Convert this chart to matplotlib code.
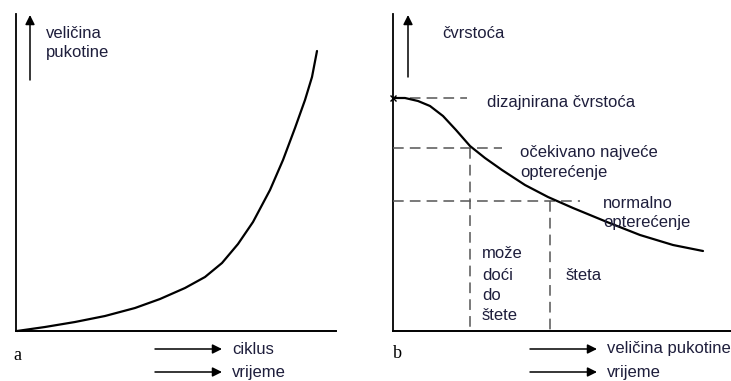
import matplotlib
matplotlib.use('Agg')
import matplotlib.pyplot as plt

# ============================================================
# DATA (pixel coordinates, y downwards)
# ============================================================
# panel a: crack size vs cycles
crack_x = [17, 45, 75, 105, 135, 160, 185, 205, 222, 238, 253, 270, 283, 295, 305, 312, 317]
crack_y = [331, 327, 322, 316, 308, 299, 288, 277, 263, 244, 222, 190, 160, 128, 100, 77, 51]

# panel b: strength vs crack size
strength_x = [393, 405, 418, 430, 443, 456, 470, 485, 502, 525, 548, 573, 607, 640, 673, 703]
strength_y = [98, 98, 101, 106, 116, 130, 146, 158, 170, 185, 197, 208, 222, 235, 245, 251]

# dashed reference levels (y, x_end) and drop lines (x, y_top)
levels = [(98, 467), (148, 502), (201, 580)]
drops = [(470, 148), (550, 201)]

label_a_axis = ['veličina', 'pukotine']
label_a_bottom = ['ciklus', 'vrijeme']
label_b_bottom = ['veličina pukotine', 'vrijeme']

W, H = 731, 381
TXT = '#1e1e3c'
FS = 12

plt.rcParams['font.family'] = ['Liberation Sans', 'DejaVu Sans']

fig = plt.figure(figsize=(W / 100, H / 100), dpi=100)
ax = fig.add_axes([0, 0, 1, 1])
ax.set_xlim(0, W)
ax.set_ylim(H, 0)
ax.axis('off')

arrow = dict(arrowstyle='-|>', color='black', lw=1.1, mutation_scale=14,
             shrinkA=0, shrinkB=0)

# ---------------- panel a ----------------
ax.plot([16, 16], [14, 331], color='black', lw=1.3)
ax.plot([16, 336], [331, 331], color='black', lw=1.4)
ax.plot(crack_x, crack_y, color='black', lw=1.6,
        solid_capstyle='round', solid_joinstyle='round')
ax.annotate('', xy=(30, 15), xytext=(30, 80), arrowprops=arrow)
ax.text(46, 33, label_a_axis[0], fontsize=FS, color=TXT, va='center')
ax.text(46, 53, label_a_axis[1], fontsize=FS, color=TXT, va='center')
ax.text(17, 355, 'a', fontsize=13, family='Liberation Serif', va='center', ha='center')
for yy, lab in zip([349, 372], label_a_bottom):
    ax.annotate('', xy=(222, yy), xytext=(155, yy), arrowprops=arrow)
    ax.text(232, yy, lab, fontsize=FS, color=TXT, va='center')

# ---------------- panel b ----------------
ax.plot([393, 393], [14, 331], color='black', lw=1.3)
ax.plot([393, 731], [331, 331], color='black', lw=1.4)
for yy, xe in levels:
    ax.plot([393, xe], [yy, yy], color='#555555', lw=1.1, dashes=(7, 4))
for xx, yt in drops:
    ax.plot([xx, xx], [yt, 331], color='#555555', lw=1.1, dashes=(7, 4))
ax.plot(strength_x, strength_y, color='black', lw=1.6,
        solid_capstyle='round', solid_joinstyle='round')
ax.plot(strength_x[0], strength_y[0], marker='x', color='black', ms=5, mew=1)
ax.annotate('', xy=(408, 15), xytext=(408, 77), arrowprops=arrow)
ax.text(442, 33, 'čvrstoća', fontsize=FS, color=TXT, va='center')
ax.text(487, 103, 'dizajnirana čvrstoća', fontsize=FS, color=TXT, va='center')
ax.text(520, 152, 'očekivano najveće', fontsize=FS, color=TXT, va='center')
ax.text(520, 172, 'opterećenje', fontsize=FS, color=TXT, va='center')
ax.text(603, 203, 'normalno', fontsize=FS, color=TXT, va='center')
ax.text(603, 223, 'opterećenje', fontsize=FS, color=TXT, va='center')
for yy, lab in zip([254, 275, 295, 316], ['može', 'doći', 'do', 'štete']):
    ax.text(482, yy, lab, fontsize=FS, color=TXT, va='center')
ax.text(566, 276, 'šteta', fontsize=FS, color=TXT, va='center')
ax.text(397, 353, 'b', fontsize=13, family='Liberation Serif', va='center', ha='center')
for yy, lab in zip([349, 372], label_b_bottom):
    ax.annotate('', xy=(597, yy), xytext=(530, yy), arrowprops=arrow)
    ax.text(607, yy, lab, fontsize=FS, color=TXT, va='center')

fig.savefig('out.png', dpi=100)
